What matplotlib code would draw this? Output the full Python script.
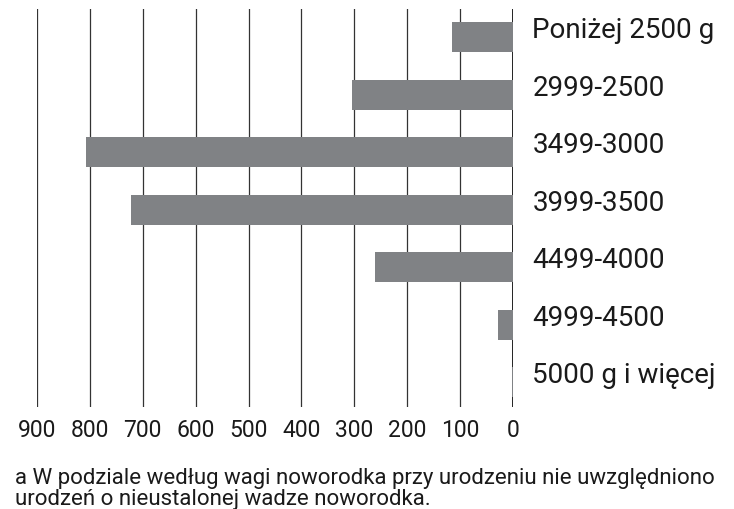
import numpy as np
import matplotlib.pyplot as plt

# kategorie wagi noworodka i liczby urodzen
categories = ['Poniżej 2500 g', '2999-2500', '3499-3000', '3999-3500',
              '4499-4000', '4999-4500', '5000 g i więcej']
values = [115, 305, 807, 722, 261, 28, 2]
xticks = [0, 100, 200, 300, 400, 500, 600, 700, 800, 900]

plt.rcParams['font.family'] = ['Roboto', 'DejaVu Sans']

fig = plt.figure(figsize=(7.34, 5.10), dpi=100)
ax = fig.add_axes([37 / 734, 102 / 510, 476 / 734, 398 / 510])

y = np.arange(len(categories))
ax.barh(y, values, height=0.52, color='#808285', zorder=2)

ax.set_xlim(900, 0)
ax.set_ylim(6.43, -0.49)
ax.set_xticks(xticks)
ax.set_xticklabels([str(t) for t in xticks], fontsize=16.5, color='#1a1a1a')
ax.set_yticks(y)
ax.set_yticklabels(categories, fontsize=20, color='#1a1a1a', va='baseline')
ax.yaxis.tick_right()
ax.tick_params(axis='y', length=0, pad=14)
ax.tick_params(axis='x', length=0, pad=8)

for t in xticks:
    ax.axvline(t, color='#333333' if t else '#111111', lw=0.9 if t else 1.3, zorder=1)

for s in ax.spines.values():
    s.set_visible(False)

fig.text(15 / 734, 1 - 484 / 510, 'a W podziale według wagi noworodka przy urodzeniu nie uwzględniono',
         fontsize=16, va='baseline', color='#1a1a1a')
fig.text(15 / 734, 1 - 505 / 510, 'urodzeń o nieustalonej wadze noworodka.',
         fontsize=16, va='baseline', color='#1a1a1a')

fig.savefig('out.png', dpi=100)
